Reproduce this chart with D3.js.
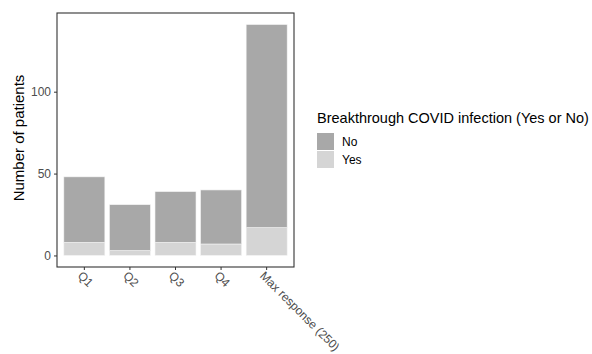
<!DOCTYPE html>
<html lang="en">
<head>
<meta charset="UTF-8" />
<title>Breakthrough COVID infection</title>
<script src="https://d3js.org/d3.v7.min.js"></script>
<style>
  body { margin: 0; background: white; }
  svg text { font-family: "Liberation Sans", Arial, sans-serif; }
</style>
</head>
<body>
<div id="chart"></div>
<script>
  // ----------- Data ----------- //
  var categories = ["Q1", "Q2", "Q3", "Q4", "Max response (250)"];
  var yesCounts = [8, 3, 8, 7, 17];
  var noCounts = [40, 28, 31, 33, 124];
  var groups = ["No", "Yes"];
  var yTicks = [0, 50, 100];

  // ----------- Basic Variables ----------- //
  var width = 592, height = 354;
  var panel = { left: 57, top: 13, right: 294, bottom: 267 };
  var colors = { No: "#a8a8a8", Yes: "#d5d5d5" };

  var svg = d3.select("#chart").append("svg")
    .attr("width", width)
    .attr("height", height);

  var rows = categories.map(function(c, i) {
    return { cat: c, Yes: yesCounts[i], No: noCounts[i] };
  });
  // Yes stacked at the bottom, No on top
  var stacked = d3.stack().keys(["Yes", "No"])(rows);

  var maxTotal = d3.max(rows, d => d.Yes + d.No);

  var x = d3.scaleBand()
    .domain(categories)
    .range([panel.left, panel.right])
    .paddingInner(0.1)
    .paddingOuter(0.15);

  var y = d3.scaleLinear()
    .domain([-0.05 * maxTotal, 1.05 * maxTotal])
    .range([panel.bottom, panel.top]);

  // ----------- Bars ----------- //
  svg.append("g").selectAll("g")
    .data(stacked)
    .enter().append("g")
      .attr("fill", d => colors[d.key])
    .selectAll("rect")
    .data(d => d)
    .enter().append("rect")
      .attr("x", d => x(d.data.cat))
      .attr("width", x.bandwidth())
      .attr("y", d => y(d[1]))
      .attr("height", d => y(d[0]) - y(d[1]))
      .attr("stroke", "#f4f4f4")
      .attr("stroke-width", 0.6);

  // ----------- Panel border ----------- //
  svg.append("rect")
    .attr("x", panel.left)
    .attr("y", panel.top)
    .attr("width", panel.right - panel.left)
    .attr("height", panel.bottom - panel.top)
    .attr("fill", "none")
    .attr("stroke", "#333333")
    .attr("stroke-width", 1.1);

  // ----------- Axes ----------- //
  var yAxis = svg.append("g")
    .attr("transform", "translate(" + panel.left + ",0)")
    .call(d3.axisLeft(y).tickValues(yTicks).tickSize(3).tickPadding(3));
  yAxis.select(".domain").remove();
  yAxis.selectAll("line").attr("stroke", "#333333");
  yAxis.selectAll("text")
    .attr("fill", "#4d4d4d")
    .style("font-size", "12px");

  var xAxis = svg.append("g")
    .attr("transform", "translate(0," + panel.bottom + ")")
    .call(d3.axisBottom(x).tickSize(3).tickPadding(3));
  xAxis.select(".domain").remove();
  xAxis.selectAll("line").attr("stroke", "#333333");
  xAxis.selectAll("text")
    .attr("fill", "#4d4d4d")
    .style("font-size", "12px")
    .attr("text-anchor", "start")
    .attr("dy", null)
    .attr("transform", "translate(-6,8) rotate(45)")
    .attr("y", 2)
    .attr("x", 0);

  svg.append("text")
    .attr("transform", "rotate(-90)")
    .attr("x", -(panel.top + panel.bottom) / 2 + 2)
    .attr("y", 24)
    .attr("text-anchor", "middle")
    .style("font-size", "15px")
    .attr("fill", "#000")
    .text("Number of patients");

  // ----------- Legend ----------- //
  var legend = svg.append("g").attr("transform", "translate(317,0)");
  legend.append("text")
    .attr("x", 0)
    .attr("y", 123)
    .style("font-size", "14.5px")
    .attr("fill", "#000")
    .text("Breakthrough COVID infection (Yes or No)");

  var keys = legend.selectAll(".key")
    .data(groups)
    .enter().append("g")
      .attr("class", "key")
      .attr("transform", (d, i) => "translate(0," + (133 + i * 18) + ")");
  keys.append("rect")
    .attr("width", 17)
    .attr("height", 17)
    .attr("fill", d => colors[d]);
  keys.append("text")
    .attr("x", 25)
    .attr("y", 13)
    .style("font-size", "12px")
    .attr("fill", "#000")
    .text(d => d);
</script>
</body>
</html>
